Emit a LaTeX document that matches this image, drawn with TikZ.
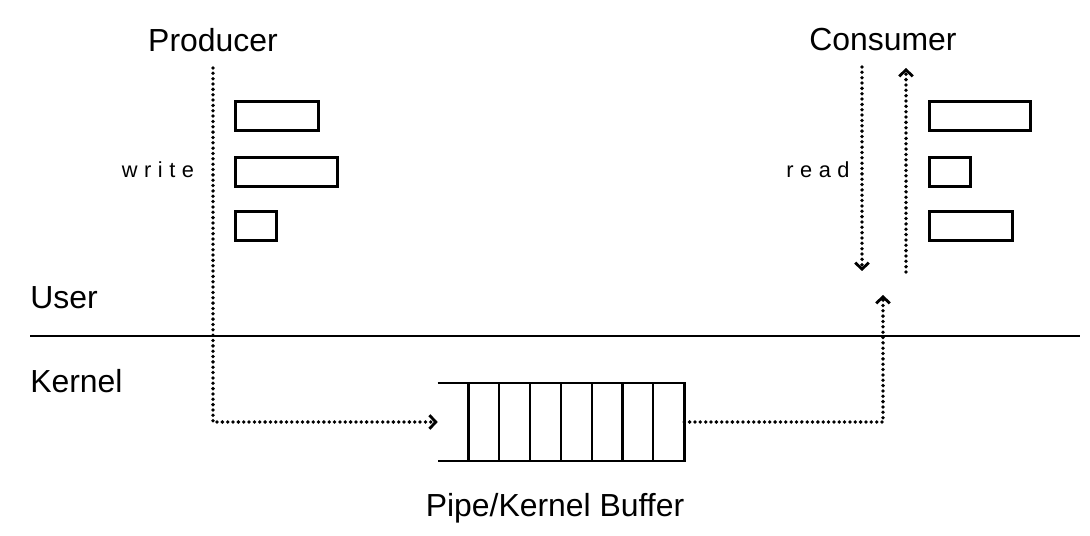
\documentclass[tikz,border=0pt]{standalone}
\usepackage{fontspec}
\setmainfont{Liberation Sans}
\newfontfamily\spacedfont[LetterSpace=30]{Liberation Sans}
\usetikzlibrary{arrows.meta, positioning, calc}

\begin{document}
\begin{tikzpicture}[
    x=0.025cm, y=-0.025cm,
    lbl/.style={font=\fontsize{22.7}{27}\selectfont, inner sep=0pt},
    op/.style={font=\spacedfont\fontsize{15.5}{18}\selectfont, inner sep=0pt},
    msg/.style={draw, line width=2.2pt, inner sep=0pt, anchor=north west, minimum height=29*0.025cm, minimum width=#1*0.025cm},
    flow/.style={line width=2.7pt, dash pattern=on 0pt off 3.8pt, line cap=round, -{Straight Barb[length=1.6mm, width=3.4mm, line width=2pt]}}
]
\useasboundingbox (0,0) rectangle (1090,536);

% titles
\node[lbl] (producer) at (213,40) {Producer};
\node[lbl] (consumer) at (883,40) {Consumer};
\node[lbl, anchor=west] (user) at (30,298) {User};
\node[lbl, anchor=west] (kernel) at (30,381) {Kernel};
\node[op] (write) at (158,170) {write};
\node[op] (read) at (818,170) {read};

% messages
\node[msg=83] (p1) at (234,100) {};
\node[msg=102] (p2) at (234,156) {};
\node[msg=41] (p3) at (234,210) {};
\node[msg=101] (c1) at (928,100) {};
\node[msg=41] (c2) at (928,156) {};
\node[msg=83] (c3) at (928,210) {};

% user / kernel boundary
\draw[line width=1.8pt] (30,336) coordinate (bl) -- (1080,336) coordinate (br);

% pipe buffer
\node[minimum width=246*0.025cm, minimum height=77*0.025cm, inner sep=0pt] (buf) at (561,422) {};
\draw[line width=1.8pt] (buf.north west) -- (buf.north east) -- (buf.south east) -- (buf.south west);
\foreach \i in {1,...,7}
  \draw[line width=1.6pt] ($(buf.north west)+(\i*30.8,0)$) -- ($(buf.south west)+(\i*30.8,0)$);
\node[lbl] (buflabel) at (555,508) {Pipe/Kernel Buffer};

% data flow
\coordinate (pstart) at (213,68);
\coordinate (rtop) at (862,67);
\coordinate (rbot) at (862,271);
\coordinate (ubot) at (906,272);
\coordinate (utop) at (906,68);
\coordinate (kup) at (883,295);
\draw[flow] (pstart) |- (buf.west);
\draw[flow] (buf.east) -| (kup);
\draw[flow] (rtop) -- (rbot);
\draw[flow] (ubot) -- (utop);
\end{tikzpicture}
\end{document}
